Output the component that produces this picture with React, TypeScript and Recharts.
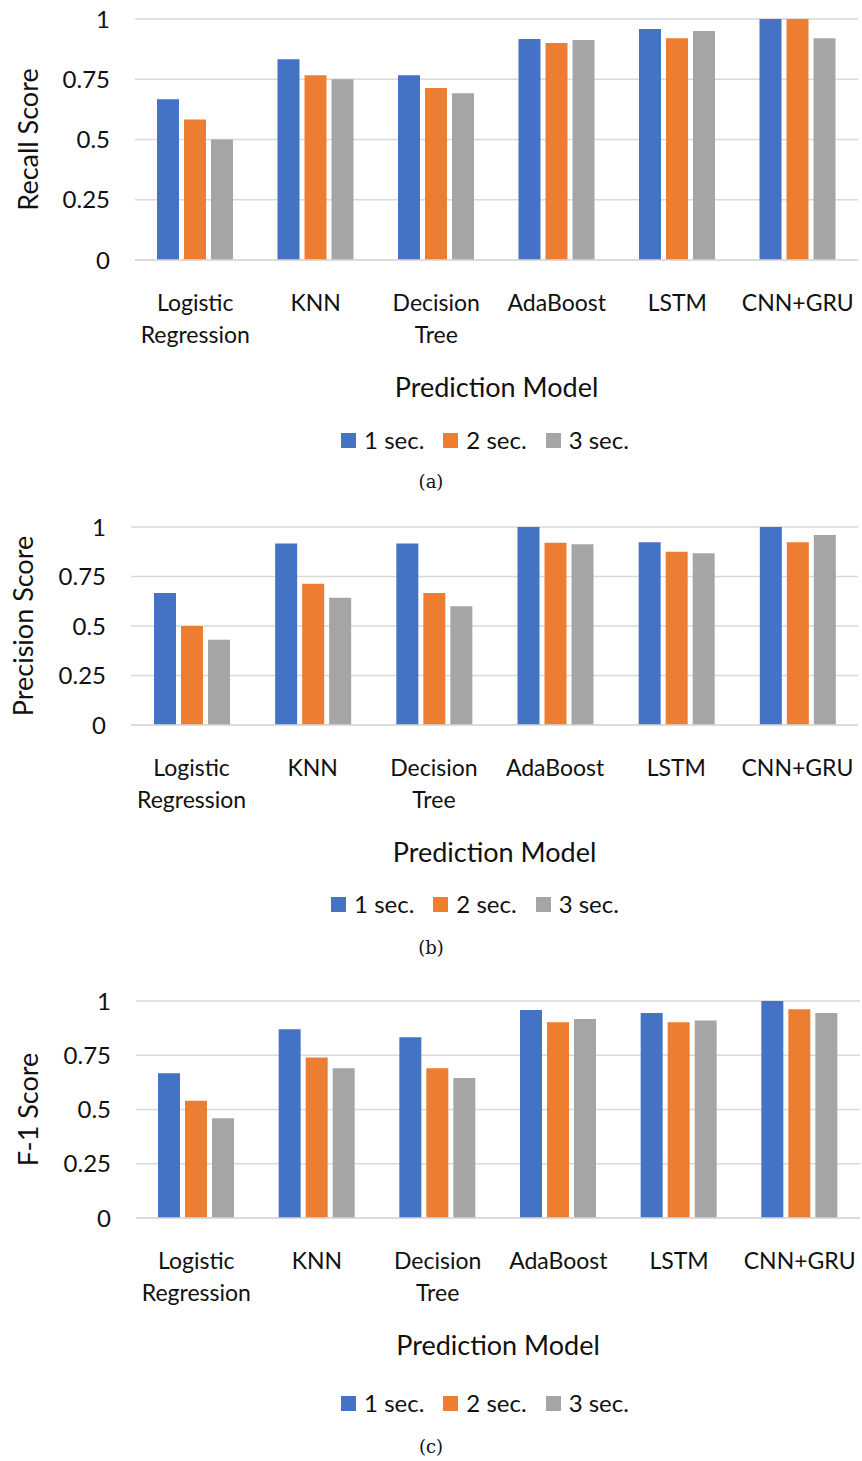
import React from 'react';
import { BarChart, Bar, XAxis, YAxis, CartesianGrid, Legend } from 'recharts';

const categories = ['Logistic Regression', 'KNN', 'Decision Tree', 'AdaBoost', 'LSTM', 'CNN+GRU'];
const seriesNames = ['1 sec.', '2 sec.', '3 sec.'];
const seriesColors = ['#4472C4', '#ED7D31', '#A5A5A5'];
const yTicks = [0, 0.25, 0.5, 0.75, 1];

// (a) recall
const recall1 = [0.667, 0.833, 0.767, 0.917, 0.958, 1];
const recall2 = [0.583, 0.767, 0.714, 0.9, 0.92, 1];
const recall3 = [0.5, 0.75, 0.692, 0.913, 0.95, 0.92];

// (b) precision
const precision1 = [0.667, 0.917, 0.917, 1, 0.923, 1];
const precision2 = [0.5, 0.714, 0.667, 0.92, 0.875, 0.923];
const precision3 = [0.43, 0.643, 0.6, 0.913, 0.867, 0.96];

// (c) f1
const f1s1 = [0.667, 0.87, 0.833, 0.958, 0.945, 1];
const f1s2 = [0.54, 0.74, 0.69, 0.902, 0.902, 0.962];
const f1s3 = [0.46, 0.69, 0.645, 0.917, 0.91, 0.945];

const FONT = 'Lato, "Open Sans", sans-serif';
const TXT = '#111';

const buildRows = (a: number[], b: number[], c: number[]) =>
  categories.map((name, i) => ({ name, [seriesNames[0]]: a[i], [seriesNames[1]]: b[i], [seriesNames[2]]: c[i] }));

const CategoryTick = ({ x, y, payload }: any) => {
  const lines = String(payload.value).split(' ');
  return (
    <text x={x} y={y + 49} textAnchor="middle" fontSize={23} fill={TXT} fontFamily={FONT}>
      {lines.map((l, i) => (
        <tspan key={i} x={x} dy={i === 0 ? 0 : 32}>{l}</tspan>
      ))}
    </text>
  );
};

type PanelProps = {
  top: number; height: number; plotTop: number; plotBottom: number; plotLeft: number; plotRight: number;
  yLabel: string; yLabelX: number; a: number[]; b: number[]; c: number[];
  legendOffset: number; legendCenter: number; caption: string; captionY: number;
};

function Panel(p: PanelProps) {
  const data = buildRows(p.a, p.b, p.c);
  const relTop = p.plotTop - p.top;
  const relBottom = p.plotBottom - p.top;
  const xAxisH = 150;
  return (
    <>
      <div style={{ position: 'absolute', left: 0, top: p.top, width: 862, height: p.height }}>
        <BarChart
          width={862}
          height={p.height}
          data={data}
          barSize={22}
          barGap={5}
          margin={{ top: relTop, right: 862 - p.plotRight, left: 0, bottom: p.height - relBottom - xAxisH }}
        >
          <CartesianGrid vertical={false} stroke="#d9d9d9" strokeWidth={1.5} />
          <XAxis
            dataKey="name"
            height={xAxisH}
            tickLine={false}
            axisLine={{ stroke: '#d9d9d9', strokeWidth: 1.5 }}
            tickSize={0}
            interval={0}
            tick={<CategoryTick />}
            label={(lp: any) => {
              const vb = lp.viewBox || {};
              return (
                <text x={vb.x + vb.width / 2} y={vb.y + 137} textAnchor="middle" fontSize={27} fill={TXT} fontFamily={FONT}>
                  Prediction Model
                </text>
              );
            }}
          />
          <YAxis
            width={p.plotLeft}
            domain={[0, 1]}
            ticks={yTicks}
            axisLine={false}
            tickLine={false}
            tickSize={0}
            tickMargin={25}
            tick={{ fontSize: 24, fill: TXT, fontFamily: FONT }}
            label={(lp: any) => {
              const vb = lp.viewBox || {};
              const cy = vb.y + vb.height / 2;
              return (
                <text x={p.yLabelX} y={cy} textAnchor="middle" dominantBaseline="central" fontSize={27} fill={TXT} fontFamily={FONT}
                  transform={`rotate(-90 ${p.yLabelX} ${cy})`}>
                  {p.yLabel}
                </text>
              );
            }}
          />
          <Legend
            layout="horizontal"
            verticalAlign="middle"
            align="center"
            wrapperStyle={{ top: relBottom + p.legendOffset - 15, left: 0, width: 862 }}
            content={() => (
              <div style={{ display: 'flex', justifyContent: 'center', gap: 19, fontFamily: FONT, fontSize: 24, color: TXT, paddingLeft: 2 * (p.legendCenter - 431), lineHeight: '30px' }}>
                {seriesNames.map((n, i) => (
                  <div key={n} style={{ display: 'flex', alignItems: 'center', gap: 8 }}>
                    <span style={{ width: 15, height: 15, background: seriesColors[i], display: 'inline-block' }} />
                    <span>{n}</span>
                  </div>
                ))}
              </div>
            )}
          />
          {seriesNames.map((n, i) => (
            <Bar key={n} dataKey={n} fill={seriesColors[i]} isAnimationActive={false} />
          ))}
        </BarChart>
      </div>
      <div style={{ position: 'absolute', left: 0, width: 862, top: p.captionY - 11, textAlign: 'center', fontFamily: '"DejaVu Serif", "Liberation Serif", serif', fontSize: 18, color: TXT, lineHeight: '22px' }}>
        {p.caption}
      </div>
    </>
  );
}

export default function App() {
  return (
    <div style={{ position: 'absolute', left: 0, top: 0, width: 862, height: 1461, background: '#fff' }}>
      <Panel top={0} height={460} plotTop={19} plotBottom={260} plotLeft={135} plotRight={858}
        yLabel="Recall Score" yLabelX={27} a={recall1} b={recall2} c={recall3}
        legendOffset={180} legendCenter={485} caption="(a)" captionY={482} />
      <Panel top={470} height={460} plotTop={527} plotBottom={725} plotLeft={131} plotRight={858}
        yLabel="Precision Score" yLabelX={22} a={precision1} b={precision2} c={precision3}
        legendOffset={179} legendCenter={475} caption="(b)" captionY={948} />
      <Panel top={950} height={480} plotTop={1001} plotBottom={1218} plotLeft={136} plotRight={860}
        yLabel="F-1 Score" yLabelX={27} a={f1s1} b={f1s2} c={f1s3}
        legendOffset={185} legendCenter={485} caption="(c)" captionY={1447} />
    </div>
  );
}
